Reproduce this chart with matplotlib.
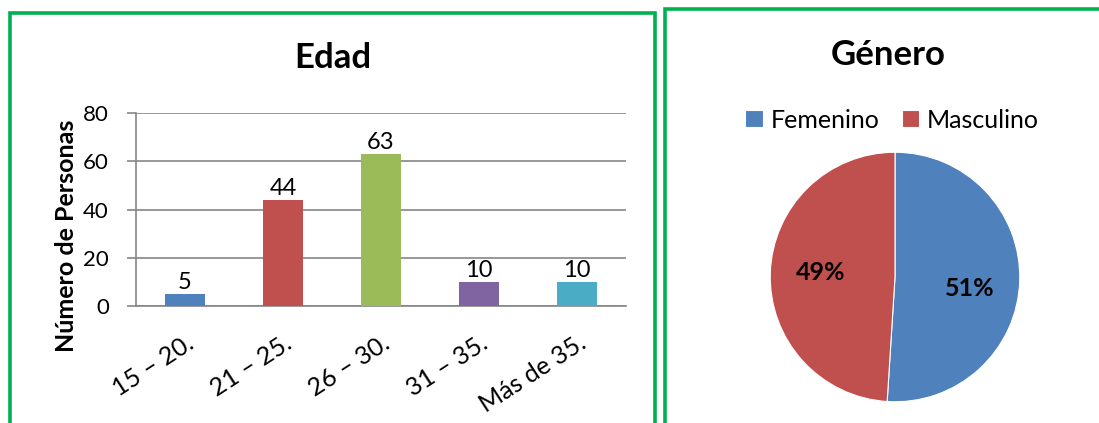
import matplotlib.pyplot as plt
from matplotlib.patches import Rectangle
from matplotlib.transforms import ScaledTranslation

plt.rcParams['font.family'] = ['Lato', 'DejaVu Sans']

# Edad
edades = ['15 – 20.', '21 – 25.', '26 – 30.', '31 – 35.', 'Más de 35.']
personas = [5, 44, 63, 10, 10]
colores_barras = ['#4F81BD', '#C0504D', '#9BBB59', '#8064A2', '#4BACC6']

# Género
generos = ['Femenino', 'Masculino']
porcentajes = [51, 49]
colores_pie = ['#4F81BD', '#C0504D']

W, H = 1099, 423
fig = plt.figure(figsize=(W / 100, H / 100), dpi=100)

gris = '#868686'
verde = '#00B050'


def fx(px):
    return px / W


def fy(py):
    return 1 - py / H


# recuadros verdes
fig.add_artist(Rectangle((fx(10), fy(440)), fx(645), fy(13.5) - fy(440),
                         transform=fig.transFigure, fill=False,
                         edgecolor=verde, linewidth=2.6))
fig.add_artist(Rectangle((fx(665), fy(440)), fx(460), fy(9) - fy(440),
                         transform=fig.transFigure, fill=False,
                         edgecolor=verde, linewidth=2.6))

# ---- barras ----
ax = fig.add_axes([fx(136), fy(306), fx(626 - 136), fy(113) - fy(306)])
x = range(len(edades))
bars = ax.bar(x, personas, width=0.4, color=colores_barras, zorder=3)
for b, v in zip(bars, personas):
    ax.text(b.get_x() + b.get_width() / 2, v + 0.5, str(v),
            ha='center', va='bottom', fontsize=17)

ax.set_xlim(-0.5, len(edades) - 0.5)
ax.set_ylim(0, 80)
ax.set_yticks([0, 20, 40, 60, 80])
ax.yaxis.grid(True, color=gris, linewidth=1.2, zorder=0)
ax.set_xticks(list(x))
ax.set_xticklabels(edades, rotation=33, ha='right', va='top',
                   rotation_mode='anchor', fontsize=18)
# mover etiquetas un poco a la izquierda
desplazar = ScaledTranslation(-9 / 100, 0, fig.dpi_scale_trans)
for lbl in ax.get_xticklabels():
    lbl.set_transform(lbl.get_transform() + desplazar)
ax.tick_params(axis='x', length=0, pad=18)
ax.tick_params(axis='y', length=6.5, color=gris, width=1.2, labelsize=16, pad=13)
for s in ['top', 'right']:
    ax.spines[s].set_visible(False)
ax.spines['left'].set_color(gris)
ax.spines['bottom'].set_color(gris)
ax.spines['left'].set_linewidth(1.2)
ax.spines['bottom'].set_linewidth(1.2)
ax.set_ylabel('Número de Personas', fontsize=18, fontweight='bold')
ax.yaxis.set_label_coords(-0.118, 0.363)

fig.text(fx(333), fy(58), 'Edad', ha='center', va='center',
         fontsize=25, fontweight='bold')

# ---- pastel ----
ax2 = fig.add_axes([fx(895 - 126), fy(403), fx(252), fy(151) - fy(403)])
wedges, _, autotexts = ax2.pie(porcentajes, colors=colores_pie, startangle=90,
                               counterclock=False, autopct='%d%%',
                               pctdistance=0.6,
                               wedgeprops=dict(edgecolor='white', linewidth=0.8))
for t in autotexts:
    t.set_fontsize(18)
    t.set_fontweight('bold')
autotexts[0].set_y(autotexts[0].get_position()[1] - 0.07)
autotexts[1].set_y(autotexts[1].get_position()[1] + 0.02)
ax2.set_xlim(-1.01, 1.01)
ax2.set_ylim(-1.01, 1.01)
ax2.set_aspect('equal')

fig.text(fx(888), fy(55), 'Género', ha='center', va='center',
         fontsize=25, fontweight='bold')
fig.legend(wedges, generos, loc='center', bbox_to_anchor=(fx(892), fy(120)),
           ncol=2, frameon=False, fontsize=18, handlelength=0.7,
           handleheight=0.7, handletextpad=0.3, columnspacing=0.9)

fig.savefig('out.png', dpi=100)
